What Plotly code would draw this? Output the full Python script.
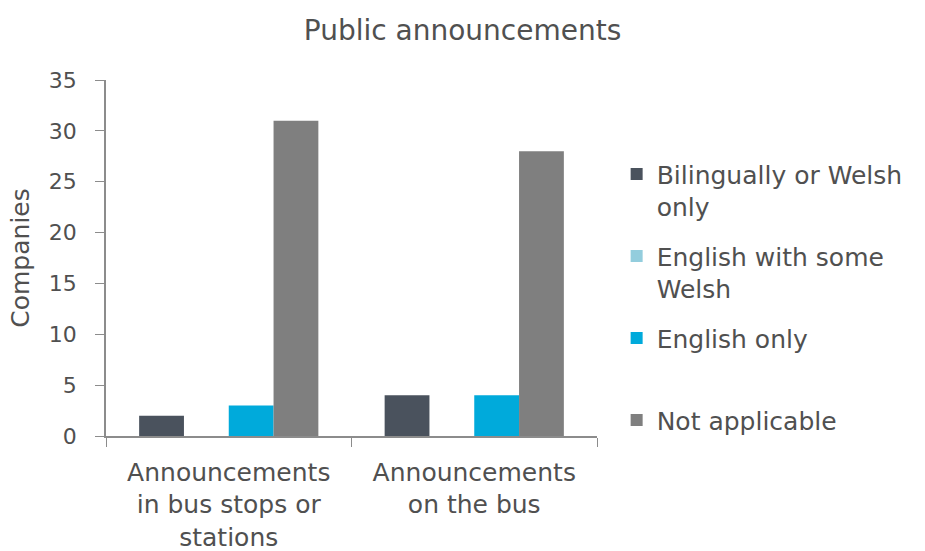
import plotly.graph_objects as go

categories = ["Announcements<br>in bus stops or<br>stations", "Announcements<br>on the bus"]
series_names = ["Bilingually or Welsh<br>only", "English with some<br>Welsh", "English only<br> ", "Not applicable<br> "]
series_values = [
    [2, 4],    # Bilingually or Welsh only
    [0, 0],    # English with some Welsh
    [3, 4],    # English only
    [31, 28],  # Not applicable
]
series_colors = ["#4a525d", "#93cddd", "#00aadb", "#7f7f7f"]
y_ticks = [0, 5, 10, 15, 20, 25, 30, 35]

FONT = "DejaVu Sans, Liberation Sans, Arial, sans-serif"
TEXT = "#505050"
AXIS = "#8c8c8c"

fig = go.Figure()
for i, (name, vals, col) in enumerate(zip(series_names, series_values, series_colors)):
    fig.add_trace(go.Bar(
        x=categories, y=vals, name=name, legendgroup=f"g{i}",
        marker=dict(color=col, line=dict(width=0)),
    ))

fig.update_layout(
    width=925, height=551,
    margin=dict(l=106, r=328, t=80, b=115),
    paper_bgcolor="white", plot_bgcolor="white",
    barmode="group", bargap=0.27, bargroupgap=0,
    font=dict(family=FONT, color=TEXT, size=22),
    title=dict(text="Public announcements", x=0.5, xref="container", xanchor="center",
               y=0.945, yanchor="middle", font=dict(size=28, color=TEXT)),
    showlegend=True,
    legend=dict(
        x=1.04, xref="paper", xanchor="left",
        y=0.80, yref="paper", yanchor="top",
        font=dict(size=25, color=TEXT),
        valign="top", traceorder="grouped", tracegroupgap=14,
        bgcolor="rgba(0,0,0,0)",
    ),
    xaxis=dict(
        showline=True, linecolor=AXIS, linewidth=1.5,
        ticks="outside", tickson="boundaries", ticklen=9, tickcolor=AXIS,
        showgrid=False, tickfont=dict(size=25, color=TEXT),
        ticklabelstandoff=13, automargin=False,
    ),
    yaxis=dict(
        range=[0, 35], tickvals=y_ticks,
        showline=True, linecolor=AXIS, linewidth=1.5,
        ticks="outside", ticklen=9, tickcolor=AXIS,
        showgrid=False, zeroline=False,
        tickfont=dict(size=22, color=TEXT),
        ticklabelstandoff=14, automargin=False,
        title=dict(text="Companies", font=dict(size=25, color=TEXT), standoff=12),
    ),
)

fig.write_html("out.html")
